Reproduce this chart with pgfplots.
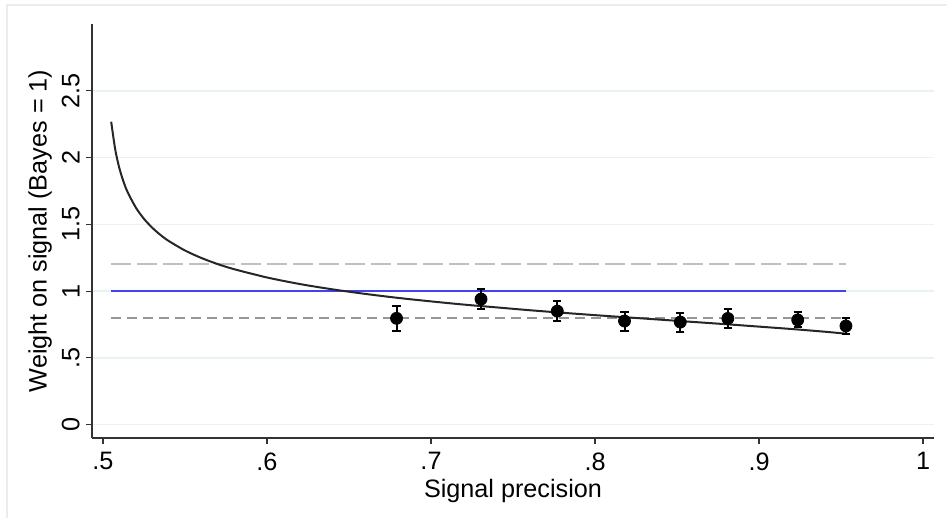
\documentclass[border=0pt]{standalone}
\usepackage{pgfplots}
\pgfplotsset{compat=1.18}
\usepackage{fontspec}
\setmainfont{Liberation Sans}

\definecolor{gridc}{RGB}{234,242,243}
\definecolor{framec}{RGB}{232,238,240}
\definecolor{bayes}{RGB}{66,66,240}
\definecolor{hiline}{RGB}{192,192,192}
\definecolor{loline}{RGB}{150,150,150}

\begin{document}
\begin{tikzpicture}[x=1bp, y=1bp, font=\fontsize{12.6bp}{14bp}\selectfont]
\useasboundingbox (-46,-40) rectangle (427.5,219);
\draw[framec, line width=0.8bp] (-42.5,-40) -- (-42.5,216.5) -- (427.5,216.5);
\begin{axis}[
    at={(0,0)}, anchor=south west,
    scale only axis,
    width=421bp, height=207bp,
    xmin=0.4933, xmax=1.0067,
    ymin=-0.1, ymax=3.0,
    axis x line*=bottom, axis y line*=left,
    axis line style={line width=0.6bp, black!80, -},
    xtick={0.5,0.6,0.7,0.8,0.9,1},
    xticklabels={.5,.6,.7,.8,.9,1},
    ytick={0,0.5,1,1.5,2,2.5},
    yticklabels={0,.5,1,1.5,2,2.5},
    tick align=outside,
    major tick length=3bp,
    tick style={line width=0.6bp, black!80},
    yticklabel style={xshift=-3bp, rotate=90, anchor=south, inner sep=0pt},
    xticklabel style={anchor=north, inner sep=0pt, yshift=-4bp},
    ymajorgrids,
    grid style={gridc, line width=0.8bp},
    xlabel={Signal precision},
    ylabel={Weight on signal (Bayes = 1)},
    every axis x label/.style={at={(axis description cs:0.5,0)}, anchor=north, yshift=-20.5bp, inner sep=0pt},
    every axis y label/.style={at={(axis description cs:0,0.5)}, xshift=-26bp, rotate=90, anchor=center, inner sep=0pt},
    clip=false,
]
% upper reference line
\addplot[hiline, line width=1bp, dash pattern=on 10bp off 3bp] coordinates {(0.5049,1.2) (0.953,1.2)};
% Bayes line
\addplot[bayes, line width=1.3bp] coordinates {(0.5049,1.0) (0.953,1.0)};
% lower reference line
\addplot[loline, line width=1bp, dash pattern=on 5bp off 3bp] coordinates {(0.5049,0.8) (0.953,0.8)};
% fitted curve
\addplot[black!85, line width=1bp, smooth] coordinates {
    (0.505,2.268) (0.5075,2.058) (0.51,1.920) (0.5125,1.820) (0.515,1.742)
    (0.52,1.626) (0.525,1.541) (0.53,1.475) (0.535,1.421) (0.54,1.376)
    (0.55,1.304) (0.56,1.248) (0.57,1.202) (0.58,1.164) (0.60,1.102)
    (0.62,1.053) (0.64,1.013) (0.66,0.979) (0.68,0.949) (0.70,0.923)
    (0.72,0.899) (0.74,0.878) (0.76,0.857) (0.78,0.838) (0.80,0.820)
    (0.82,0.803) (0.84,0.786) (0.86,0.769) (0.88,0.752) (0.90,0.734)
    (0.92,0.716) (0.94,0.696) (0.954,0.680)
};
% estimates with confidence intervals
\addplot[black, only marks, mark=*, mark size=3bp,
    error bars/.cd, y dir=both, y explicit,
    error bar style={line width=1bp, black},
    error mark options={rotate=90, line width=1bp, mark size=2.1bp, black}]
coordinates {
    (0.679,0.796) +- (0,0.096)
    (0.7305,0.940) +- (0,0.073)
    (0.777,0.850) +- (0,0.077)
    (0.818,0.776) +- (0,0.071)
    (0.852,0.768) +- (0,0.071)
    (0.881,0.795) +- (0,0.072)
    (0.9236,0.784) +- (0,0.056)
    (0.953,0.739) +- (0,0.060)
};
\end{axis}
\end{tikzpicture}
\end{document}
